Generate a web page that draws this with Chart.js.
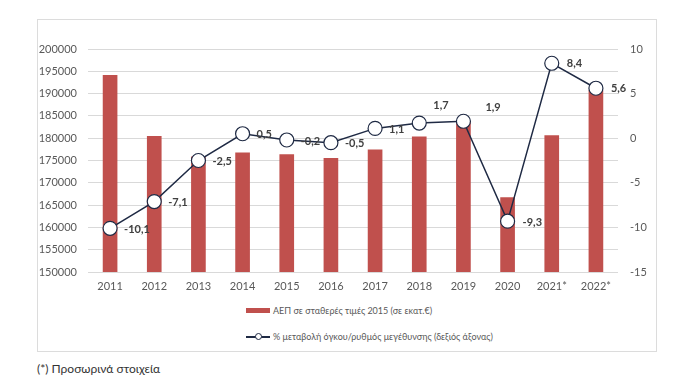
<!DOCTYPE html>
<html>
<head>
<meta charset="utf-8">
<script src="https://cdn.jsdelivr.net/npm/chart.js@4"></script>
<style>
  body { margin: 0; background: #fff; font-family: Lato, "Open Sans", sans-serif; }
  #frame { position: absolute; left: 37px; top: 19px; width: 620px; height: 333px; border: 1px solid #dcdcdc; box-sizing: border-box; }
  #chartBox { position: absolute; left: 37px; top: 19px; width: 620px; height: 281px; }
  .leg { position: absolute; left: 246px; font-size: 9px; color: #595959; white-space: nowrap; }
  .leg .txt { position: absolute; left: 27px; top: -6px; }
  #leg1 { top: 311px; }
  #leg1 .sw { position: absolute; left: 0; top: -3px; width: 24px; height: 5px; background: #c0504d; }
  #leg2 { top: 337px; }
  #leg2 .ln { position: absolute; left: 0; top: -1px; width: 24px; height: 1.5px; background: #1f2a44; }
  #leg2 .dot { position: absolute; left: 9px; top: -4px; width: 5px; height: 5px; border: 1px solid #1f2a44; border-radius: 50%; background: #fff; }
  #note { position: absolute; left: 37px; top: 361px; font-size: 12px; color: #333; }
</style>
</head>
<body>
<div id="frame"></div>
<div id="chartBox"><canvas id="mixChart"></canvas></div>
<div class="leg" id="leg1"><div class="sw"></div><div class="txt">ΑΕΠ σε σταθερές τιμές 2015 (σε εκατ.€)</div></div>
<div class="leg" id="leg2"><div class="ln"></div><div class="dot"></div><div class="txt">% μεταβολή όγκου/ρυθμός μεγέθυνσης (δεξιός άξονας)</div></div>
<div id="note">(*) Προσωρινά στοιχεία</div>
<script>
const years = ['2011', '2012', '2013', '2014', '2015', '2016', '2017', '2018', '2019', '2020', '2021*', '2022*'];
const gdpValues = [194100, 180400, 175800, 176700, 176300, 175500, 177400, 180300, 183700, 166700, 180600, 190700];
const growthRates = [-10.1, -7.1, -2.5, 0.5, -0.2, -0.5, 1.1, 1.7, 1.9, -9.3, 8.4, 5.6];
const leftTicks = { min: 150000, max: 200000, step: 5000 };
const rightTicks = { min: -15, max: 10, step: 5 };

// label nudges (dx, dy) relative to marker, 2018/2019 sit above the line
const labelNudge = [[14,1],[14,1],[14,1],[14,1],[14,1],[14,1],[14,1],[14,-18],[22,-14],[15,1],[15,0],[15,0]];

const valueLabels = {
  id: 'valueLabels',
  afterDatasetsDraw(chart) {
    const ctx = chart.ctx;
    const meta = chart.getDatasetMeta(1);
    ctx.save();
    ctx.font = 'bold 11px Lato, "Open Sans", sans-serif';
    ctx.fillStyle = '#404040';
    ctx.textAlign = 'left';
    ctx.textBaseline = 'middle';
    meta.data.forEach((pt, i) => {
      const txt = growthRates[i].toFixed(1).replace('.', ',');
      ctx.fillText(txt, pt.x + labelNudge[i][0], pt.y + labelNudge[i][1]);
    });
    ctx.restore();
  }
};

const tickFont = { family: 'Lato, "Open Sans", sans-serif', size: 11 };

new Chart(document.getElementById('mixChart'), {
  type: 'bar',
  data: {
    labels: years,
    datasets: [
      {
        type: 'bar',
        label: 'ΑΕΠ σε σταθερές τιμές 2015 (σε εκατ.€)',
        data: gdpValues,
        backgroundColor: '#c0504d',
        barThickness: 14,
        yAxisID: 'y',
        order: 2
      },
      {
        type: 'line',
        label: '% μεταβολή όγκου/ρυθμός μεγέθυνσης (δεξιός άξονας)',
        data: growthRates,
        borderColor: '#1f2a44',
        borderWidth: 1.5,
        pointRadius: 7,
        pointBackgroundColor: '#fff',
        pointBorderColor: '#1f2a44',
        pointBorderWidth: 1.2,
        tension: 0,
        yAxisID: 'y1',
        order: 1
      }
    ]
  },
  options: {
    responsive: true,
    maintainAspectRatio: false,
    animation: false,
    layout: { padding: { top: 30, left: 0, right: 0, bottom: 0 } },
    plugins: { legend: { display: false }, tooltip: { enabled: false } },
    scales: {
      x: {
        grid: { display: false, drawTicks: false },
        border: { display: false },
        ticks: { color: '#595959', font: tickFont, padding: 8, maxRotation: 0 },
        afterFit: (s) => { s.height = 28; }
      },
      y: {
        position: 'left',
        min: leftTicks.min,
        max: leftTicks.max,
        ticks: { stepSize: leftTicks.step, color: '#595959', font: tickFont, padding: 11, callback: (v) => String(v) },
        grid: { color: '#d9d9d9', drawTicks: false },
        border: { display: false },
        afterFit: (s) => { s.width = 51; }
      },
      y1: {
        position: 'right',
        min: rightTicks.min,
        max: rightTicks.max,
        ticks: { stepSize: rightTicks.step, color: '#595959', font: tickFont, padding: 12, callback: (v) => String(v) },
        grid: { display: false, drawTicks: false },
        border: { display: false },
        afterFit: (s) => { s.width = 39; }
      }
    }
  },
  plugins: [valueLabels]
});
</script>
</body>
</html>
